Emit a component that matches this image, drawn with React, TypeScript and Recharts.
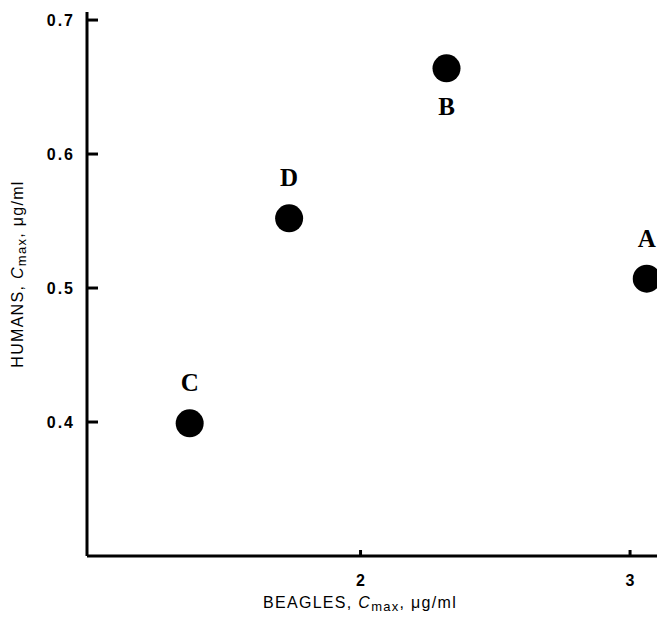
import React from 'react';
import { ScatterChart, Scatter, XAxis, YAxis, Label } from 'recharts';

const names = ['A', 'B', 'C', 'D'];
const beagles = [3.062, 2.319, 1.366, 1.735];
const humans = [0.507, 0.664, 0.399, 0.552];
const labelSide = ['top', 'bottom', 'top', 'top'];
const xTicks = [2, 3];
const yTicks = [0.4, 0.5, 0.6, 0.7];

const data = names.map((n, i) => ({ name: n, x: beagles[i], y: humans[i], side: labelSide[i] }));

const Dot = (props: any) => {
  const { cx, cy, payload } = props;
  const ly = payload.side === 'top' ? cy - 32 : cy + 47;
  return (
    <g>
      <circle cx={cx} cy={cy} r={14} fill="#000" />
      <text x={cx} y={ly} textAnchor="middle" fontFamily="'Liberation Serif', serif" fontWeight="bold" fontSize={25} fill="#000">
        {payload.name}
      </text>
    </g>
  );
};

const YTick = (props: any) => {
  const { x, y, payload } = props;
  return (
    <g>
      <line x1={x} y1={y} x2={x + 11} y2={y} stroke="#000" strokeWidth={3} />
      <text x={x - 12} y={y + 6} textAnchor="end" fontFamily="'Liberation Sans', Arial, sans-serif" fontWeight="bold" fontSize={16} letterSpacing={2} fill="#000">
        {payload.value.toFixed(1)}
      </text>
    </g>
  );
};

const XTick = (props: any) => {
  const { x, y, payload } = props;
  return (
    <g>
      <line x1={x} y1={y} x2={x} y2={y - 6} stroke="#000" strokeWidth={3} />
      <text x={x} y={y + 30} textAnchor="middle" fontFamily="'Liberation Sans', Arial, sans-serif" fontWeight="bold" fontSize={16} fill="#000">
        {payload.value}
      </text>
    </g>
  );
};

const XLab = (props: any) => {
  const { viewBox } = props;
  const cx = viewBox.x + 273;
  const cy = viewBox.y + 52;
  return (
    <text x={cx} y={cy} textAnchor="middle" fontFamily="'Liberation Sans', Arial, sans-serif" fontSize={16} letterSpacing={1.3} fill="#000">
      <tspan>BEAGLES, </tspan>
      <tspan fontStyle="italic">C</tspan>
      <tspan dy={3} fontSize={13}>max</tspan>
      <tspan dy={-3}>, μg/ml</tspan>
    </text>
  );
};

const YLab = () => {
  const cx = 23;
  const cy = 274;
  return (
    <text x={cx} y={cy} transform={`rotate(-90, ${cx}, ${cy})`} textAnchor="middle" fontFamily="'Liberation Sans', Arial, sans-serif" fontSize={16} letterSpacing={1.3} fill="#000">
      <tspan>HUMANS, </tspan>
      <tspan fontStyle="italic">C</tspan>
      <tspan dy={3} fontSize={13}>max</tspan>
      <tspan dy={-3}>, μg/ml</tspan>
    </text>
  );
};

export default function App() {
  return (
    <div style={{ position: 'fixed', left: 0, top: 0, width: 657, height: 617, overflow: 'hidden', background: '#fff' }}>
      <ScatterChart width={700} height={617} margin={{ top: 12, right: 43, bottom: 0, left: 0 }}>
        <XAxis
          type="number"
          dataKey="x"
          domain={[0.985, 3.1]}
          ticks={xTicks}
          height={61}
          axisLine={{ stroke: '#000', strokeWidth: 3 }}
          tickLine={false}
          tickSize={0}
          tickMargin={0}
          tick={<XTick />}
          allowDataOverflow
        >
          <Label content={<XLab />} />
        </XAxis>
        <YAxis
          type="number"
          dataKey="y"
          domain={[0.3, 0.706]}
          ticks={yTicks}
          width={87}
          axisLine={{ stroke: '#000', strokeWidth: 3 }}
          tickLine={false}
          tickSize={0}
          tickMargin={0}
          tick={<YTick />}
          allowDataOverflow
        >
          <Label content={<YLab />} />
        </YAxis>
        <Scatter data={data} shape={<Dot />} isAnimationActive={false} />
      </ScatterChart>
    </div>
  );
}
